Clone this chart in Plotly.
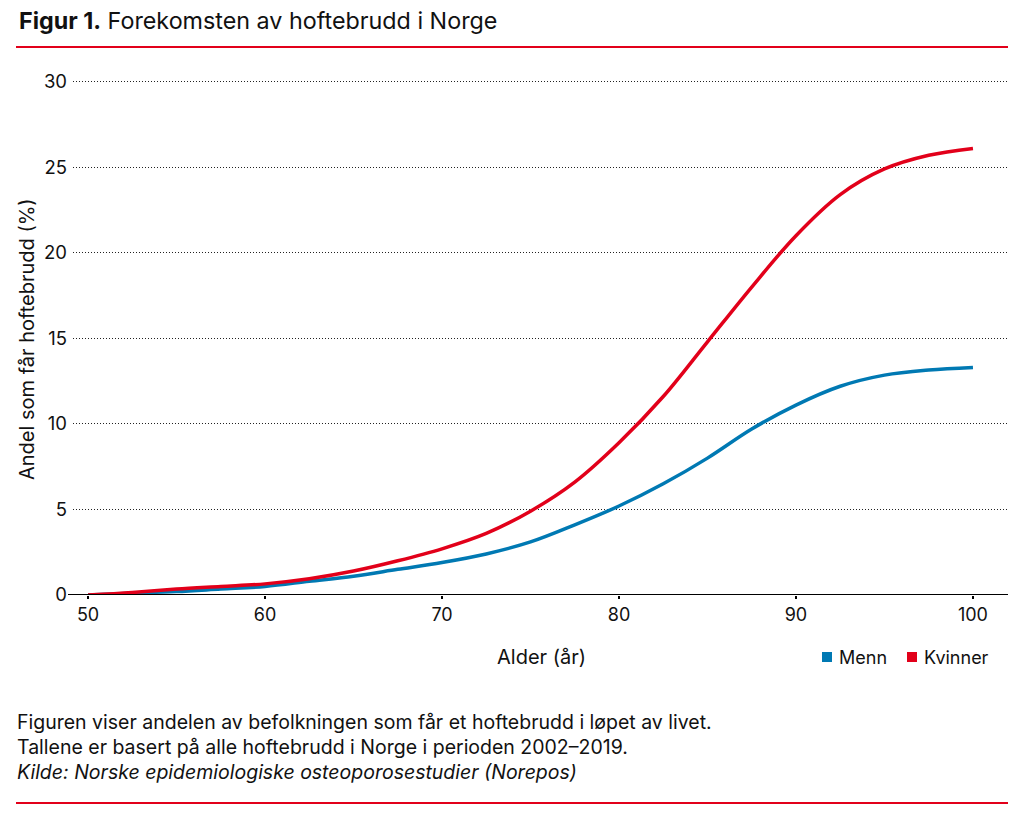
import plotly.graph_objects as go

# Data
alder = [50, 52.5, 55, 57.5, 60, 62.5, 65, 67.5, 70, 72.5, 75, 77.5, 80, 82.5, 85, 87.5, 90, 92.5, 95, 97.5, 100]
kvinner = [0, 0.15, 0.35, 0.5, 0.65, 0.95, 1.4, 2.0, 2.7, 3.6, 4.9, 6.6, 8.9, 11.6, 14.8, 18.0, 21.0, 23.4, 24.9, 25.7, 26.1]
menn = [0, 0.1, 0.2, 0.35, 0.5, 0.8, 1.1, 1.5, 1.9, 2.4, 3.1, 4.1, 5.2, 6.5, 8.0, 9.7, 11.1, 12.2, 12.85, 13.15, 13.3]
x_ticks = [50, 60, 70, 80, 90, 100]
y_ticks = [0, 5, 10, 15, 20, 25, 30]

RED = "#E2001A"
BLUE = "#0079B3"
FONT = "Inter"
TXT = "#111111"

W, H = 1024, 825
L, R, T, B = 73, 16, 80, 230
PW, PH = W - L - R, H - T - B


def px(x):
    return (x - L) / PW


def py(y):
    return (H - B - y) / PH


fig = go.Figure()
fig.add_trace(go.Scatter(x=alder, y=menn, mode="lines", line=dict(color=BLUE, width=3.5, shape="spline"),
                         name="Menn", showlegend=False))
fig.add_trace(go.Scatter(x=alder, y=kvinner, mode="lines", line=dict(color=RED, width=3.5, shape="spline"),
                         name="Kvinner", showlegend=False))

fig.update_xaxes(range=[49.15, 101.98], tickvals=x_ticks, ticks="outside", ticklen=3, tickwidth=2,
                 tickcolor="black", showgrid=False, zeroline=False, showline=False,
                 tickfont=dict(family=FONT, size=18, color=TXT))
fig.update_yaxes(range=[0, 30.1], tickvals=y_ticks, showgrid=True, griddash="1px,2px", gridcolor="#222",
                 gridwidth=1, zeroline=False, showline=False, ticks="", ticklabelstandoff=5,
                 tickfont=dict(family=FONT, size=18.5, color=TXT))

shapes = [
    # axis line
    dict(type="line", xref="paper", yref="y", x0=px(68), x1=px(1008), y0=0, y1=0,
         line=dict(color="black", width=2)),
    # red rules
    dict(type="line", xref="paper", yref="paper", x0=px(16), x1=px(1008), y0=py(47), y1=py(47),
         line=dict(color=RED, width=2)),
    dict(type="line", xref="paper", yref="paper", x0=px(16), x1=px(1008), y0=py(803), y1=py(803),
         line=dict(color=RED, width=2)),
    # legend squares
    dict(type="rect", xref="paper", yref="paper", x0=px(822), x1=px(832), y0=py(662), y1=py(652),
         fillcolor=BLUE, line=dict(width=0)),
    dict(type="rect", xref="paper", yref="paper", x0=px(907), x1=px(917), y0=py(662), y1=py(652),
         fillcolor=RED, line=dict(width=0)),
]

ann = [
    dict(text="<b>Figur 1.</b> Forekomsten av hoftebrudd i Norge", x=px(17), y=py(21),
         xanchor="left", yanchor="middle", font=dict(family=FONT, size=23.3, color=TXT)),
    dict(text="Andel som får hoftebrudd (%)", x=px(27), y=py(339), textangle=-90,
         xanchor="center", yanchor="middle", font=dict(family=FONT, size=20, color=TXT)),
    dict(text="Alder (år)", x=px(541), y=py(657), xanchor="center", yanchor="middle",
         font=dict(family=FONT, size=20, color=TXT)),
    dict(text="Menn", x=px(837), y=py(657), xanchor="left", yanchor="middle",
         font=dict(family=FONT, size=18, color=TXT)),
    dict(text="Kvinner", x=px(922), y=py(657), xanchor="left", yanchor="middle",
         font=dict(family=FONT, size=18, color=TXT)),
    dict(text="Figuren viser andelen av befolkningen som får et hoftebrudd i løpet av livet.",
         x=px(15), y=py(722), xanchor="left", yanchor="middle", font=dict(family=FONT, size=19.5, color=TXT)),
    dict(text="Tallene er basert på alle hoftebrudd i Norge i perioden 2002–2019.",
         x=px(15), y=py(747), xanchor="left", yanchor="middle", font=dict(family=FONT, size=19.5, color=TXT)),
    dict(text="<i>Kilde: Norske epidemiologiske osteoporosestudier (Norepos)</i>",
         x=px(15), y=py(772), xanchor="left", yanchor="middle", font=dict(family=FONT, size=19.5, color=TXT)),
]
for a in ann:
    a.update(xref="paper", yref="paper", showarrow=False)

fig.update_layout(width=W, height=H, margin=dict(l=L, r=R, t=T, b=B), plot_bgcolor="white",
                  paper_bgcolor="white", shapes=shapes, annotations=ann, showlegend=False,
                  font=dict(family=FONT))

fig.write_html("out.html", config={"displayModeBar": False},
               post_script="document.body.style.margin='0';document.body.style.padding='0';")
